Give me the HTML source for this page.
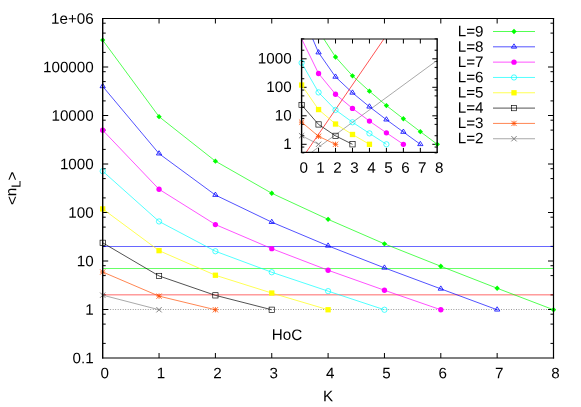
<!DOCTYPE html>
<html><head><meta charset="utf-8"><title>HoC</title>
<style>html,body{margin:0;padding:0;background:#fff;width:581px;height:407px;overflow:hidden}svg text{font-family:"Liberation Sans",sans-serif}</style>
</head><body>
<svg width="581" height="407" viewBox="0 0 581 407" style="display:block;position:absolute;left:0;top:0;will-change:transform">
<rect width="581" height="407" fill="#fff"/>
<path d="M102.70 343.40h3M553.50 343.40h-3M102.70 324.10h3M553.50 324.10h-3M102.70 314.20h3M553.50 314.20h-3M102.70 309.50h5.5M553.50 309.50h-5.5M102.70 294.90h3M553.50 294.90h-3M102.70 275.60h3M553.50 275.60h-3M102.70 265.70h3M553.50 265.70h-3M102.70 261.00h5.5M553.50 261.00h-5.5M102.70 246.40h3M553.50 246.40h-3M102.70 227.10h3M553.50 227.10h-3M102.70 217.20h3M553.50 217.20h-3M102.70 212.50h5.5M553.50 212.50h-5.5M102.70 197.90h3M553.50 197.90h-3M102.70 178.60h3M553.50 178.60h-3M102.70 168.70h3M553.50 168.70h-3M102.70 164.00h5.5M553.50 164.00h-5.5M102.70 149.40h3M553.50 149.40h-3M102.70 130.10h3M553.50 130.10h-3M102.70 120.20h3M553.50 120.20h-3M102.70 115.50h5.5M553.50 115.50h-5.5M102.70 100.90h3M553.50 100.90h-3M102.70 81.60h3M553.50 81.60h-3M102.70 71.70h3M553.50 71.70h-3M102.70 67.00h5.5M553.50 67.00h-5.5M102.70 52.40h3M553.50 52.40h-3M102.70 33.10h3M553.50 33.10h-3M102.70 23.20h3M553.50 23.20h-3M159.05 358.00v-5M159.05 18.50v5M215.40 358.00v-5M215.40 18.50v5M271.75 358.00v-5M271.75 18.50v5M328.10 358.00v-5M328.10 18.50v5M384.45 358.00v-5M384.45 18.50v5M440.80 358.00v-5M440.80 18.50v5M497.15 358.00v-5M497.15 18.50v5" stroke="#000" stroke-width="1.0" fill="none"/>
<path d="M102.70 309.50H553.50" stroke="#222" stroke-width="0.5" stroke-dasharray="0.9 1.605" fill="none"/>
<path d="M102.70 246.50H553.50" stroke="#0000ff" stroke-width="0.6" fill="none"/>
<path d="M102.70 268.50H553.50" stroke="#00ff00" stroke-width="0.6" fill="none"/>
<path d="M102.70 294.85H553.50" stroke="#ff0000" stroke-width="0.6" fill="none"/>
<polyline points="102.70,40.10 159.05,116.65 215.40,161.15 271.75,193.25 328.10,219.35 384.45,243.85 440.80,266.25 497.15,288.25 553.50,309.75" fill="none" stroke="#00ff00" stroke-width="0.68"/>
<path d="M102.70 37.45L105.35 40.10L102.70 42.75L100.05 40.10Z" fill="#00ff00"/>
<path d="M159.05 114.00L161.70 116.65L159.05 119.30L156.40 116.65Z" fill="#00ff00"/>
<path d="M215.40 158.50L218.05 161.15L215.40 163.80L212.75 161.15Z" fill="#00ff00"/>
<path d="M271.75 190.60L274.40 193.25L271.75 195.90L269.10 193.25Z" fill="#00ff00"/>
<path d="M328.10 216.70L330.75 219.35L328.10 222.00L325.45 219.35Z" fill="#00ff00"/>
<path d="M384.45 241.20L387.10 243.85L384.45 246.50L381.80 243.85Z" fill="#00ff00"/>
<path d="M440.80 263.60L443.45 266.25L440.80 268.90L438.15 266.25Z" fill="#00ff00"/>
<path d="M497.15 285.60L499.80 288.25L497.15 290.90L494.50 288.25Z" fill="#00ff00"/>
<path d="M553.50 307.10L556.15 309.75L553.50 312.40L550.85 309.75Z" fill="#00ff00"/>
<polyline points="102.70,86.38 159.05,153.65 215.40,195.05 271.75,222.15 328.10,245.85 384.45,267.85 440.80,288.85 497.15,309.75" fill="none" stroke="#0000ff" stroke-width="0.68"/>
<path d="M102.70 83.41L100.05 87.71L105.35 87.71Z" fill="none" stroke="#0000ff" stroke-width="0.8"/><circle cx="102.70" cy="86.38" r="0.5" fill="#0000ff"/>
<path d="M159.05 150.68L156.40 154.97L161.70 154.97Z" fill="none" stroke="#0000ff" stroke-width="0.8"/><circle cx="159.05" cy="153.65" r="0.5" fill="#0000ff"/>
<path d="M215.40 192.08L212.75 196.38L218.05 196.38Z" fill="none" stroke="#0000ff" stroke-width="0.8"/><circle cx="215.40" cy="195.05" r="0.5" fill="#0000ff"/>
<path d="M271.75 219.18L269.10 223.47L274.40 223.47Z" fill="none" stroke="#0000ff" stroke-width="0.8"/><circle cx="271.75" cy="222.15" r="0.5" fill="#0000ff"/>
<path d="M328.10 242.88L325.45 247.17L330.75 247.17Z" fill="none" stroke="#0000ff" stroke-width="0.8"/><circle cx="328.10" cy="245.85" r="0.5" fill="#0000ff"/>
<path d="M384.45 264.88L381.80 269.18L387.10 269.18Z" fill="none" stroke="#0000ff" stroke-width="0.8"/><circle cx="384.45" cy="267.85" r="0.5" fill="#0000ff"/>
<path d="M440.80 285.88L438.15 290.18L443.45 290.18Z" fill="none" stroke="#0000ff" stroke-width="0.8"/><circle cx="440.80" cy="288.85" r="0.5" fill="#0000ff"/>
<path d="M497.15 306.78L494.50 311.07L499.80 311.07Z" fill="none" stroke="#0000ff" stroke-width="0.8"/><circle cx="497.15" cy="309.75" r="0.5" fill="#0000ff"/>
<polyline points="102.70,130.18 159.05,189.25 215.40,224.55 271.75,248.65 328.10,270.25 384.45,290.25 440.80,309.75" fill="none" stroke="#ff00ff" stroke-width="0.68"/>
<circle cx="102.70" cy="130.18" r="2.65" fill="#ff00ff"/>
<circle cx="159.05" cy="189.25" r="2.65" fill="#ff00ff"/>
<circle cx="215.40" cy="224.55" r="2.65" fill="#ff00ff"/>
<circle cx="271.75" cy="248.65" r="2.65" fill="#ff00ff"/>
<circle cx="328.10" cy="270.25" r="2.65" fill="#ff00ff"/>
<circle cx="384.45" cy="290.25" r="2.65" fill="#ff00ff"/>
<circle cx="440.80" cy="309.75" r="2.65" fill="#ff00ff"/>
<polyline points="102.70,171.17 159.05,221.45 215.40,251.25 271.75,272.25 328.10,291.15 384.45,309.75" fill="none" stroke="#00ffff" stroke-width="0.68"/>
<circle cx="102.70" cy="171.17" r="2.65" fill="none" stroke="#00ffff" stroke-width="0.7"/>
<circle cx="159.05" cy="221.45" r="2.65" fill="none" stroke="#00ffff" stroke-width="0.7"/>
<circle cx="215.40" cy="251.25" r="2.65" fill="none" stroke="#00ffff" stroke-width="0.7"/>
<circle cx="271.75" cy="272.25" r="2.65" fill="none" stroke="#00ffff" stroke-width="0.7"/>
<circle cx="328.10" cy="291.15" r="2.65" fill="none" stroke="#00ffff" stroke-width="0.7"/>
<circle cx="384.45" cy="309.75" r="2.65" fill="none" stroke="#00ffff" stroke-width="0.7"/>
<polyline points="102.70,208.91 159.05,250.65 215.40,275.25 271.75,293.05 328.10,309.75" fill="none" stroke="#ffff00" stroke-width="0.68"/>
<rect x="100.05" y="206.26" width="5.30" height="5.30" fill="#ffff00"/>
<rect x="156.40" y="248.00" width="5.30" height="5.30" fill="#ffff00"/>
<rect x="212.75" y="272.60" width="5.30" height="5.30" fill="#ffff00"/>
<rect x="269.10" y="290.40" width="5.30" height="5.30" fill="#ffff00"/>
<rect x="325.45" y="307.10" width="5.30" height="5.30" fill="#ffff00"/>
<polyline points="102.70,242.81 159.05,275.95 215.40,295.35 271.75,309.75" fill="none" stroke="#000000" stroke-width="0.68"/>
<rect x="100.05" y="240.16" width="5.30" height="5.30" fill="none" stroke="#000000" stroke-width="0.65"/>
<rect x="156.40" y="273.30" width="5.30" height="5.30" fill="none" stroke="#000000" stroke-width="0.65"/>
<rect x="212.75" y="292.70" width="5.30" height="5.30" fill="none" stroke="#000000" stroke-width="0.65"/>
<rect x="269.10" y="307.10" width="5.30" height="5.30" fill="none" stroke="#000000" stroke-width="0.65"/>
<polyline points="102.70,272.01 159.05,296.15 215.40,309.75" fill="none" stroke="#ff4d00" stroke-width="0.68"/>
<path d="M100.05 272.01H105.35M102.70 269.36V274.66M100.05 269.36L105.35 274.66M100.05 274.66L105.35 269.36" fill="none" stroke="#ff4d00" stroke-width="0.8"/>
<path d="M156.40 296.15H161.70M159.05 293.50V298.80M156.40 293.50L161.70 298.80M156.40 298.80L161.70 293.50" fill="none" stroke="#ff4d00" stroke-width="0.8"/>
<path d="M212.75 309.75H218.05M215.40 307.10V312.40M212.75 307.10L218.05 312.40M212.75 312.40L218.05 307.10" fill="none" stroke="#ff4d00" stroke-width="0.8"/>
<polyline points="102.70,295.15 159.05,309.75" fill="none" stroke="#808080" stroke-width="0.68"/>
<path d="M100.05 292.50L105.35 297.80M100.05 297.80L105.35 292.50" fill="none" stroke="#808080" stroke-width="1.0"/>
<path d="M156.40 307.10L161.70 312.40M156.40 312.40L161.70 307.10" fill="none" stroke="#808080" stroke-width="1.0"/>
<path d="M102.70 17.95V358.60" stroke="#000" stroke-width="1.4" fill="none"/>
<path d="M553.50 17.95V358.60" stroke="#000" stroke-width="1.2" fill="none"/>
<path d="M102.00 18.50H554.10" stroke="#000" stroke-width="1.1" fill="none"/>
<path d="M102.00 358.00H554.10" stroke="#000" stroke-width="1.2" fill="none"/>
<clipPath id="ic"><rect x="301.60" y="39.00" width="135.70" height="113.40"/></clipPath>
<path d="M301.60 144.30h5M437.30 144.30h-5M301.60 115.80h5M437.30 115.80h-5M301.60 87.30h5M437.30 87.30h-5M301.60 58.80h5M437.30 58.80h-5M301.60 152.88h2.7M437.30 152.88h-2.7M301.60 147.06h2.7M437.30 147.06h-2.7M301.60 135.72h2.7M437.30 135.72h-2.7M301.60 124.38h2.7M437.30 124.38h-2.7M301.60 118.56h2.7M437.30 118.56h-2.7M301.60 107.22h2.7M437.30 107.22h-2.7M301.60 95.88h2.7M437.30 95.88h-2.7M301.60 90.06h2.7M437.30 90.06h-2.7M301.60 78.72h2.7M437.30 78.72h-2.7M301.60 67.38h2.7M437.30 67.38h-2.7M301.60 61.56h2.7M437.30 61.56h-2.7M301.60 50.22h2.7M437.30 50.22h-2.7M301.60 38.88h2.7M437.30 38.88h-2.7M318.56 152.40v-4.5M318.56 39.00v4.5M335.53 152.40v-4.5M335.53 39.00v4.5M352.49 152.40v-4.5M352.49 39.00v4.5M369.45 152.40v-4.5M369.45 39.00v4.5M386.41 152.40v-4.5M386.41 39.00v4.5M403.38 152.40v-4.5M403.38 39.00v4.5M420.34 152.40v-4.5M420.34 39.00v4.5" stroke="#000" stroke-width="1.0" fill="none"/>
<g clip-path="url(#ic)">
<path d="M306.1 152.40L383.9 39.00" stroke="#ff0000" stroke-width="0.68" fill="none"/>
<path d="M311.4 152.40L437.30 60.2" stroke="#808080" stroke-width="0.68" fill="none"/>
<polyline points="301.60,-14.15 318.56,30.83 335.53,56.98 352.49,75.84 369.45,91.18 386.41,105.58 403.38,118.74 420.34,131.67 437.30,144.30" fill="none" stroke="#00ff00" stroke-width="0.68"/>
<polyline points="301.60,13.04 318.56,52.57 335.53,76.90 352.49,92.82 369.45,106.75 386.41,119.68 403.38,132.02 420.34,144.30" fill="none" stroke="#0000ff" stroke-width="0.68"/>
<polyline points="301.60,38.78 318.56,73.49 335.53,94.23 352.49,108.40 369.45,121.09 386.41,132.84 403.38,144.30" fill="none" stroke="#ff00ff" stroke-width="0.68"/>
<polyline points="301.60,62.87 318.56,92.41 335.53,109.92 352.49,122.26 369.45,133.37 386.41,144.30" fill="none" stroke="#00ffff" stroke-width="0.68"/>
<polyline points="301.60,85.04 318.56,109.57 335.53,124.03 352.49,134.49 369.45,144.30" fill="none" stroke="#ffff00" stroke-width="0.68"/>
<polyline points="301.60,104.96 318.56,124.44 335.53,135.84 352.49,144.30" fill="none" stroke="#000000" stroke-width="0.68"/>
<polyline points="301.60,122.12 318.56,136.31 335.53,144.30" fill="none" stroke="#ff4d00" stroke-width="0.68"/>
<polyline points="301.60,135.72 318.56,144.30" fill="none" stroke="#808080" stroke-width="0.68"/>
</g>
<path d="M335.53 54.33L338.18 56.98L335.53 59.63L332.88 56.98Z" fill="#00ff00"/>
<path d="M352.49 73.19L355.14 75.84L352.49 78.49L349.84 75.84Z" fill="#00ff00"/>
<path d="M369.45 88.53L372.10 91.18L369.45 93.83L366.80 91.18Z" fill="#00ff00"/>
<path d="M386.41 102.93L389.06 105.58L386.41 108.23L383.76 105.58Z" fill="#00ff00"/>
<path d="M403.38 116.09L406.02 118.74L403.38 121.39L400.73 118.74Z" fill="#00ff00"/>
<path d="M420.34 129.02L422.99 131.67L420.34 134.32L417.69 131.67Z" fill="#00ff00"/>
<path d="M437.30 141.65L439.95 144.30L437.30 146.95L434.65 144.30Z" fill="#00ff00"/>
<path d="M318.56 49.60L315.91 53.90L321.21 53.90Z" fill="none" stroke="#0000ff" stroke-width="0.8"/><circle cx="318.56" cy="52.57" r="0.5" fill="#0000ff"/>
<path d="M335.53 73.93L332.88 78.22L338.18 78.22Z" fill="none" stroke="#0000ff" stroke-width="0.8"/><circle cx="335.53" cy="76.90" r="0.5" fill="#0000ff"/>
<path d="M352.49 89.86L349.84 94.15L355.14 94.15Z" fill="none" stroke="#0000ff" stroke-width="0.8"/><circle cx="352.49" cy="92.82" r="0.5" fill="#0000ff"/>
<path d="M369.45 103.78L366.80 108.08L372.10 108.08Z" fill="none" stroke="#0000ff" stroke-width="0.8"/><circle cx="369.45" cy="106.75" r="0.5" fill="#0000ff"/>
<path d="M386.41 116.71L383.76 121.00L389.06 121.00Z" fill="none" stroke="#0000ff" stroke-width="0.8"/><circle cx="386.41" cy="119.68" r="0.5" fill="#0000ff"/>
<path d="M403.38 129.05L400.73 133.34L406.02 133.34Z" fill="none" stroke="#0000ff" stroke-width="0.8"/><circle cx="403.38" cy="132.02" r="0.5" fill="#0000ff"/>
<path d="M420.34 141.33L417.69 145.62L422.99 145.62Z" fill="none" stroke="#0000ff" stroke-width="0.8"/><circle cx="420.34" cy="144.30" r="0.5" fill="#0000ff"/>
<circle cx="318.56" cy="73.49" r="2.65" fill="#ff00ff"/>
<circle cx="335.53" cy="94.23" r="2.65" fill="#ff00ff"/>
<circle cx="352.49" cy="108.40" r="2.65" fill="#ff00ff"/>
<circle cx="369.45" cy="121.09" r="2.65" fill="#ff00ff"/>
<circle cx="386.41" cy="132.84" r="2.65" fill="#ff00ff"/>
<circle cx="403.38" cy="144.30" r="2.65" fill="#ff00ff"/>
<circle cx="301.60" cy="62.87" r="2.65" fill="none" stroke="#00ffff" stroke-width="0.7"/>
<circle cx="318.56" cy="92.41" r="2.65" fill="none" stroke="#00ffff" stroke-width="0.7"/>
<circle cx="335.53" cy="109.92" r="2.65" fill="none" stroke="#00ffff" stroke-width="0.7"/>
<circle cx="352.49" cy="122.26" r="2.65" fill="none" stroke="#00ffff" stroke-width="0.7"/>
<circle cx="369.45" cy="133.37" r="2.65" fill="none" stroke="#00ffff" stroke-width="0.7"/>
<circle cx="386.41" cy="144.30" r="2.65" fill="none" stroke="#00ffff" stroke-width="0.7"/>
<rect x="298.95" y="82.39" width="5.30" height="5.30" fill="#ffff00"/>
<rect x="315.91" y="106.92" width="5.30" height="5.30" fill="#ffff00"/>
<rect x="332.88" y="121.38" width="5.30" height="5.30" fill="#ffff00"/>
<rect x="349.84" y="131.84" width="5.30" height="5.30" fill="#ffff00"/>
<rect x="366.80" y="141.65" width="5.30" height="5.30" fill="#ffff00"/>
<rect x="298.95" y="102.31" width="5.30" height="5.30" fill="none" stroke="#000000" stroke-width="0.65"/>
<rect x="315.91" y="121.79" width="5.30" height="5.30" fill="none" stroke="#000000" stroke-width="0.65"/>
<rect x="332.88" y="133.19" width="5.30" height="5.30" fill="none" stroke="#000000" stroke-width="0.65"/>
<rect x="349.84" y="141.65" width="5.30" height="5.30" fill="none" stroke="#000000" stroke-width="0.65"/>
<path d="M298.95 122.12H304.25M301.60 119.47V124.77M298.95 119.47L304.25 124.77M298.95 124.77L304.25 119.47" fill="none" stroke="#ff4d00" stroke-width="0.8"/>
<path d="M315.91 136.31H321.21M318.56 133.66V138.96M315.91 133.66L321.21 138.96M315.91 138.96L321.21 133.66" fill="none" stroke="#ff4d00" stroke-width="0.8"/>
<path d="M332.88 144.30H338.18M335.53 141.65V146.95M332.88 141.65L338.18 146.95M332.88 146.95L338.18 141.65" fill="none" stroke="#ff4d00" stroke-width="0.8"/>
<path d="M298.95 133.07L304.25 138.37M298.95 138.37L304.25 133.07" fill="none" stroke="#808080" stroke-width="1.0"/>
<path d="M315.91 141.65L321.21 146.95M315.91 146.95L321.21 141.65" fill="none" stroke="#808080" stroke-width="1.0"/>
<path d="M301.60 38.40V153.00" stroke="#000" stroke-width="1.4" fill="none"/>
<path d="M437.15 38.40V153.00" stroke="#000" stroke-width="1.4" fill="none"/>
<path d="M300.90 39.00H437.85" stroke="#000" stroke-width="1.2" fill="none"/>
<path d="M300.90 152.40H437.85" stroke="#000" stroke-width="1.2" fill="none"/>
<path d="M493.0 31.50H535.0" stroke="#00ff00" stroke-width="0.68" fill="none"/>
<path d="M514.00 28.85L516.65 31.50L514.00 34.15L511.35 31.50Z" fill="#00ff00"/>
<path d="M493.0 46.82H535.0" stroke="#0000ff" stroke-width="0.68" fill="none"/>
<path d="M514.00 43.85L511.35 48.15L516.65 48.15Z" fill="none" stroke="#0000ff" stroke-width="0.8"/><circle cx="514.00" cy="46.82" r="0.5" fill="#0000ff"/>
<path d="M493.0 62.14H535.0" stroke="#ff00ff" stroke-width="0.68" fill="none"/>
<circle cx="514.00" cy="62.14" r="2.65" fill="#ff00ff"/>
<path d="M493.0 77.46H535.0" stroke="#00ffff" stroke-width="0.68" fill="none"/>
<circle cx="514.00" cy="77.46" r="2.65" fill="none" stroke="#00ffff" stroke-width="0.7"/>
<path d="M493.0 92.78H535.0" stroke="#ffff00" stroke-width="0.68" fill="none"/>
<rect x="511.35" y="90.13" width="5.30" height="5.30" fill="#ffff00"/>
<path d="M493.0 108.10H535.0" stroke="#000000" stroke-width="0.68" fill="none"/>
<rect x="511.35" y="105.45" width="5.30" height="5.30" fill="none" stroke="#000000" stroke-width="0.65"/>
<path d="M493.0 123.42H535.0" stroke="#ff4d00" stroke-width="0.68" fill="none"/>
<path d="M511.35 123.42H516.65M514.00 120.77V126.07M511.35 120.77L516.65 126.07M511.35 126.07L516.65 120.77" fill="none" stroke="#ff4d00" stroke-width="0.8"/>
<path d="M493.0 138.74H535.0" stroke="#808080" stroke-width="0.68" fill="none"/>
<path d="M511.35 136.09L516.65 141.39M511.35 141.39L516.65 136.09" fill="none" stroke="#808080" stroke-width="1.0"/>
<g transform="translate(93.70,363.30) rotate(0.1)"><text x="0" y="0" text-anchor="end" font-family='"Liberation Sans", sans-serif' font-size="15.2" fill="#000" >0.1</text></g>
<g transform="translate(93.70,314.80) rotate(0.1)"><text x="0" y="0" text-anchor="end" font-family='"Liberation Sans", sans-serif' font-size="15.2" fill="#000" >1</text></g>
<g transform="translate(93.70,266.30) rotate(0.1)"><text x="0" y="0" text-anchor="end" font-family='"Liberation Sans", sans-serif' font-size="15.2" fill="#000" >10</text></g>
<g transform="translate(93.70,217.80) rotate(0.1)"><text x="0" y="0" text-anchor="end" font-family='"Liberation Sans", sans-serif' font-size="15.2" fill="#000" >100</text></g>
<g transform="translate(93.70,169.30) rotate(0.1)"><text x="0" y="0" text-anchor="end" font-family='"Liberation Sans", sans-serif' font-size="15.2" fill="#000" >1000</text></g>
<g transform="translate(93.70,120.80) rotate(0.1)"><text x="0" y="0" text-anchor="end" font-family='"Liberation Sans", sans-serif' font-size="15.2" fill="#000" >10000</text></g>
<g transform="translate(93.70,72.30) rotate(0.1)"><text x="0" y="0" text-anchor="end" font-family='"Liberation Sans", sans-serif' font-size="15.2" fill="#000" >100000</text></g>
<g transform="translate(93.70,23.80) rotate(0.1)"><text x="0" y="0" text-anchor="end" font-family='"Liberation Sans", sans-serif' font-size="15.2" fill="#000" >1e+06</text></g>
<g transform="translate(104.70,378.35) rotate(0.1)"><text x="0" y="0" text-anchor="middle" font-family='"Liberation Sans", sans-serif' font-size="15.2" fill="#000" >0</text></g>
<g transform="translate(161.05,378.35) rotate(0.1)"><text x="0" y="0" text-anchor="middle" font-family='"Liberation Sans", sans-serif' font-size="15.2" fill="#000" >1</text></g>
<g transform="translate(217.40,378.35) rotate(0.1)"><text x="0" y="0" text-anchor="middle" font-family='"Liberation Sans", sans-serif' font-size="15.2" fill="#000" >2</text></g>
<g transform="translate(273.75,378.35) rotate(0.1)"><text x="0" y="0" text-anchor="middle" font-family='"Liberation Sans", sans-serif' font-size="15.2" fill="#000" >3</text></g>
<g transform="translate(330.10,378.35) rotate(0.1)"><text x="0" y="0" text-anchor="middle" font-family='"Liberation Sans", sans-serif' font-size="15.2" fill="#000" >4</text></g>
<g transform="translate(386.45,378.35) rotate(0.1)"><text x="0" y="0" text-anchor="middle" font-family='"Liberation Sans", sans-serif' font-size="15.2" fill="#000" >5</text></g>
<g transform="translate(442.80,378.35) rotate(0.1)"><text x="0" y="0" text-anchor="middle" font-family='"Liberation Sans", sans-serif' font-size="15.2" fill="#000" >6</text></g>
<g transform="translate(499.15,378.35) rotate(0.1)"><text x="0" y="0" text-anchor="middle" font-family='"Liberation Sans", sans-serif' font-size="15.2" fill="#000" >7</text></g>
<g transform="translate(555.50,378.35) rotate(0.1)"><text x="0" y="0" text-anchor="middle" font-family='"Liberation Sans", sans-serif' font-size="15.2" fill="#000" >8</text></g>
<g transform="translate(328.00,401.15) rotate(0.1)"><text x="0" y="0" text-anchor="middle" font-family='"Liberation Sans", sans-serif' font-size="15.2" fill="#000" >K</text></g>
<g transform="translate(271.80,339.85) rotate(0.1)"><text x="0" y="0" text-anchor="start" font-family='"Liberation Sans", sans-serif' font-size="15.2" fill="#000" >HoC</text></g>
<g transform="translate(291.60,149.00) rotate(0.1)"><text x="0" y="0" text-anchor="end" font-family='"Liberation Sans", sans-serif' font-size="15.2" fill="#000" >1</text></g>
<g transform="translate(291.60,120.50) rotate(0.1)"><text x="0" y="0" text-anchor="end" font-family='"Liberation Sans", sans-serif' font-size="15.2" fill="#000" >10</text></g>
<g transform="translate(291.60,92.00) rotate(0.1)"><text x="0" y="0" text-anchor="end" font-family='"Liberation Sans", sans-serif' font-size="15.2" fill="#000" >100</text></g>
<g transform="translate(291.60,63.50) rotate(0.1)"><text x="0" y="0" text-anchor="end" font-family='"Liberation Sans", sans-serif' font-size="15.2" fill="#000" >1000</text></g>
<g transform="translate(303.60,172.65) rotate(0.1)"><text x="0" y="0" text-anchor="middle" font-family='"Liberation Sans", sans-serif' font-size="15.2" fill="#000" >0</text></g>
<g transform="translate(320.56,172.65) rotate(0.1)"><text x="0" y="0" text-anchor="middle" font-family='"Liberation Sans", sans-serif' font-size="15.2" fill="#000" >1</text></g>
<g transform="translate(337.53,172.65) rotate(0.1)"><text x="0" y="0" text-anchor="middle" font-family='"Liberation Sans", sans-serif' font-size="15.2" fill="#000" >2</text></g>
<g transform="translate(354.49,172.65) rotate(0.1)"><text x="0" y="0" text-anchor="middle" font-family='"Liberation Sans", sans-serif' font-size="15.2" fill="#000" >3</text></g>
<g transform="translate(371.45,172.65) rotate(0.1)"><text x="0" y="0" text-anchor="middle" font-family='"Liberation Sans", sans-serif' font-size="15.2" fill="#000" >4</text></g>
<g transform="translate(388.41,172.65) rotate(0.1)"><text x="0" y="0" text-anchor="middle" font-family='"Liberation Sans", sans-serif' font-size="15.2" fill="#000" >5</text></g>
<g transform="translate(405.38,172.65) rotate(0.1)"><text x="0" y="0" text-anchor="middle" font-family='"Liberation Sans", sans-serif' font-size="15.2" fill="#000" >6</text></g>
<g transform="translate(422.34,172.65) rotate(0.1)"><text x="0" y="0" text-anchor="middle" font-family='"Liberation Sans", sans-serif' font-size="15.2" fill="#000" >7</text></g>
<g transform="translate(439.30,172.65) rotate(0.1)"><text x="0" y="0" text-anchor="middle" font-family='"Liberation Sans", sans-serif' font-size="15.2" fill="#000" >8</text></g>
<g transform="translate(457.80,36.35) rotate(0.1)"><text x="0" y="0" text-anchor="start" font-family='"Liberation Sans", sans-serif' font-size="15.2" fill="#000" >L=9</text></g>
<g transform="translate(457.80,51.63) rotate(0.1)"><text x="0" y="0" text-anchor="start" font-family='"Liberation Sans", sans-serif' font-size="15.2" fill="#000" >L=8</text></g>
<g transform="translate(457.80,66.91) rotate(0.1)"><text x="0" y="0" text-anchor="start" font-family='"Liberation Sans", sans-serif' font-size="15.2" fill="#000" >L=7</text></g>
<g transform="translate(457.80,82.19) rotate(0.1)"><text x="0" y="0" text-anchor="start" font-family='"Liberation Sans", sans-serif' font-size="15.2" fill="#000" >L=6</text></g>
<g transform="translate(457.80,97.47) rotate(0.1)"><text x="0" y="0" text-anchor="start" font-family='"Liberation Sans", sans-serif' font-size="15.2" fill="#000" >L=5</text></g>
<g transform="translate(457.80,112.75) rotate(0.1)"><text x="0" y="0" text-anchor="start" font-family='"Liberation Sans", sans-serif' font-size="15.2" fill="#000" >L=4</text></g>
<g transform="translate(457.80,128.03) rotate(0.1)"><text x="0" y="0" text-anchor="start" font-family='"Liberation Sans", sans-serif' font-size="15.2" fill="#000" >L=3</text></g>
<g transform="translate(457.80,143.31) rotate(0.1)"><text x="0" y="0" text-anchor="start" font-family='"Liberation Sans", sans-serif' font-size="15.2" fill="#000" >L=2</text></g>
<g transform="translate(16.2,188.4) rotate(-89.9)"><text x="0" y="0" text-anchor="middle" font-family='"Liberation Sans", sans-serif' font-size="15.2" fill="#000"><tspan dy="1.1">&lt;</tspan><tspan dy="-1.1">n</tspan><tspan dy="4.2" font-size="13">L</tspan><tspan dy="-3.1">&gt;</tspan></text></g>
</svg>
</body></html>
